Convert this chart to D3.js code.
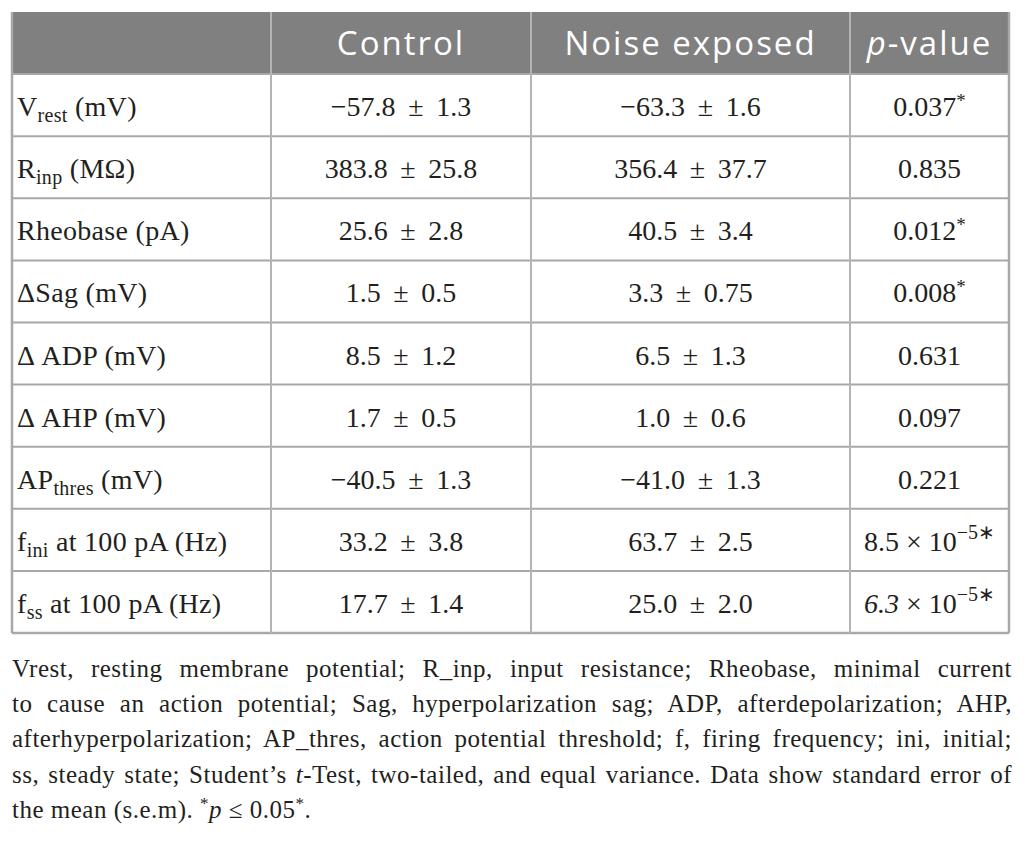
<!DOCTYPE html>
<html>
<head>
<meta charset="utf-8">
<script src="https://cdn.jsdelivr.net/npm/d3@7"></script>
<style>
  body { margin: 0; background: #fff; }
  svg { display: block; }
</style>
</head>
<body>
<svg width="1027" height="843"></svg>
<script>
// table content
var headers = ['', 'Control', 'Noise exposed', 'p-value'];
var labelBase = ['V', 'R', 'Rheobase', '\u0394Sag', '\u0394\u2009ADP', '\u0394\u2009AHP', 'AP', 'f', 'f'];
var labelSub  = ['rest', 'inp', '', '', '', '', 'thres', 'ini', 'ss'];
var labelUnit = ['(mV)', '(M\u03A9)', '(pA)', '(mV)', '(mV)', '(mV)', '(mV)', 'at 100 pA (Hz)', 'at 100 pA (Hz)'];
var controlMean = [-57.8, 383.8, 25.6, 1.5, 8.5, 1.7, -40.5, 33.2, 17.7];
var controlSem  = [1.3, 25.8, 2.8, 0.5, 1.2, 0.5, 1.3, 3.8, 1.4];
var noiseMean   = [-63.3, 356.4, 40.5, 3.3, 6.5, 1.0, -41.0, 63.7, 25.0];
var noiseSem    = [1.6, 37.7, 3.4, 0.75, 1.3, 0.6, 1.3, 2.5, 2.0];
var pValues     = [0.037, 0.835, 0.012, 0.008, 0.631, 0.097, 0.221, 8.5e-5, 6.3e-5];

var footLines = [
  "Vrest, resting membrane potential; R_inp, input resistance; Rheobase, minimal current",
  "to cause an action potential; Sag, hyperpolarization sag; ADP, afterdepolarization; AHP,",
  "afterhyperpolarization; AP_thres, action potential threshold; f, firing frequency; ini, initial;"
];

var svg = d3.select('svg');

var colEdges = [12, 271, 531, 850, 1009];
var rowKeys = ['head'].concat(d3.range(labelBase.length));
var y = d3.scaleBand().domain(rowKeys).range([12, 633]);

var serif = '"Liberation Serif", "Times New Roman", serif';
var sans = '"Open Sans", "Noto Sans", sans-serif';
var ink = '#231f20';

// number formatting with real minus sign
function fmt(v) {
  var f = Math.abs(v * 10 - Math.round(v * 10)) > 1e-6 ? '.2f' : '.1f';
  return d3.format(f)(v);
}

// header band
svg.append('rect')
  .attr('x', colEdges[0]).attr('y', y('head'))
  .attr('width', colEdges[4] - colEdges[0]).attr('height', y.bandwidth())
  .attr('fill', '#808080');

// grid lines
var gridCol = '#a8a8a8';
rowKeys.slice(1).forEach(function(k) {
  svg.append('line')
    .attr('x1', colEdges[0]).attr('x2', colEdges[4])
    .attr('y1', y(k)).attr('y2', y(k))
    .attr('stroke', gridCol).attr('stroke-width', 2);
});
svg.append('line')
  .attr('x1', colEdges[0]).attr('x2', colEdges[4])
  .attr('y1', y.range()[1]).attr('y2', y.range()[1])
  .attr('stroke', gridCol).attr('stroke-width', 2.5);
colEdges.forEach(function(x, i) {
  svg.append('line')
    .attr('x1', x).attr('x2', x)
    .attr('y1', y.range()[0]).attr('y2', y.range()[1])
    .attr('stroke', i === 0 || i === 4 ? gridCol : '#b4b4b4')
    .attr('stroke-width', i === 0 || i === 4 ? 2.5 : 2);
});

// header texts
var headY = y('head') + y.bandwidth() / 2 + 12;
headers.forEach(function(h, i) {
  if (!h) return;
  var t = svg.append('text')
    .attr('x', (colEdges[i] + colEdges[i + 1]) / 2)
    .attr('y', headY)
    .attr('text-anchor', 'middle')
    .attr('fill', '#fff')
    .attr('font-family', sans)
    .attr('font-size', 33)
    .attr('letter-spacing', 2);
  if (h === 'p-value') {
    t.append('tspan').attr('font-style', 'italic').text('p');
    t.append('tspan').text('-value');
  } else {
    t.text(h);
  }
});

// body rows
labelBase.forEach(function(b, i) {
  var by = y(i) + y.bandwidth() / 2 + 11;

  var lab = svg.append('text')
    .attr('x', 17).attr('y', by)
    .attr('font-family', serif).attr('font-size', 28).attr('letter-spacing', 0.3)
    .attr('fill', ink);
  lab.append('tspan').text(b);
  if (labelSub[i]) {
    lab.append('tspan').attr('dy', 6).attr('font-size', 20).text(labelSub[i]);
    lab.append('tspan').attr('dy', -6).text(' ' + labelUnit[i]);
  } else {
    lab.append('tspan').text(' ' + labelUnit[i]);
  }

  [[controlMean, controlSem], [noiseMean, noiseSem]].forEach(function(pair, c) {
    svg.append('text')
      .attr('x', (colEdges[c + 1] + colEdges[c + 2]) / 2)
      .attr('y', by)
      .attr('text-anchor', 'middle')
      .attr('font-family', serif).attr('font-size', 28).attr('fill', ink)
      .text(fmt(pair[0][i]) + ' \u2009\u00B1\u2009 ' + fmt(pair[1][i]));
  });

  var p = pValues[i];
  var pt = svg.append('text')
    .attr('x', (colEdges[3] + colEdges[4]) / 2)
    .attr('y', by)
    .attr('text-anchor', 'middle')
    .attr('font-family', serif).attr('font-size', 28).attr('fill', ink);
  if (p >= 0.001) {
    pt.append('tspan').text(d3.format('.3f')(p));
    if (p <= 0.05) pt.append('tspan').attr('dy', -9).attr('font-size', 19).text('*');
  } else {
    var e = Math.floor(Math.log10(p));
    var m = d3.format('.1f')(p / Math.pow(10, e));
    pt.append('tspan')
      .attr('font-style', i === labelBase.length - 1 ? 'italic' : 'normal')
      .text(m);
    pt.append('tspan').text(' \u00D7 10');
    pt.append('tspan').attr('dy', -12).attr('font-size', 20)
      .text(d3.format('')(e) + '\u2217');
  }
});

// footnote, justified lines
var footW = 1000, footX = 12, footY0 = 677, footDy = 35.2;
function justify(textSel) {
  var node = textSel.node();
  var str = node.textContent;
  var n = (str.match(/ /g) || []).length;
  var w = node.getComputedTextLength();
  if (n > 0) textSel.attr('word-spacing', (footW - w) / n);
}
function footText(k) {
  return svg.append('text')
    .attr('x', footX).attr('y', footY0 + k * footDy)
    .attr('font-family', serif).attr('font-size', 25).attr('letter-spacing', 0.5)
    .attr('fill', ink);
}
footLines.forEach(function(l, k) {
  var t = footText(k).text(l);
  justify(t);
});
var t4 = footText(3);
t4.append('tspan').text('ss, steady state; Student\u2019s ');
t4.append('tspan').attr('font-style', 'italic').text('t');
t4.append('tspan').text('-Test, two-tailed, and equal variance. Data show standard error of');
justify(t4);
var t5 = footText(4);
t5.append('tspan').text('the mean (s.e.m). ');
t5.append('tspan').attr('dy', -9).attr('font-size', 17).text('*');
t5.append('tspan').attr('dy', 9).attr('font-style', 'italic').text('p');
t5.append('tspan').text(' \u2264 0.05');
t5.append('tspan').attr('dy', -9).attr('font-size', 17).text('*');
t5.append('tspan').attr('dy', 9).text('.');
</script>
</body>
</html>
